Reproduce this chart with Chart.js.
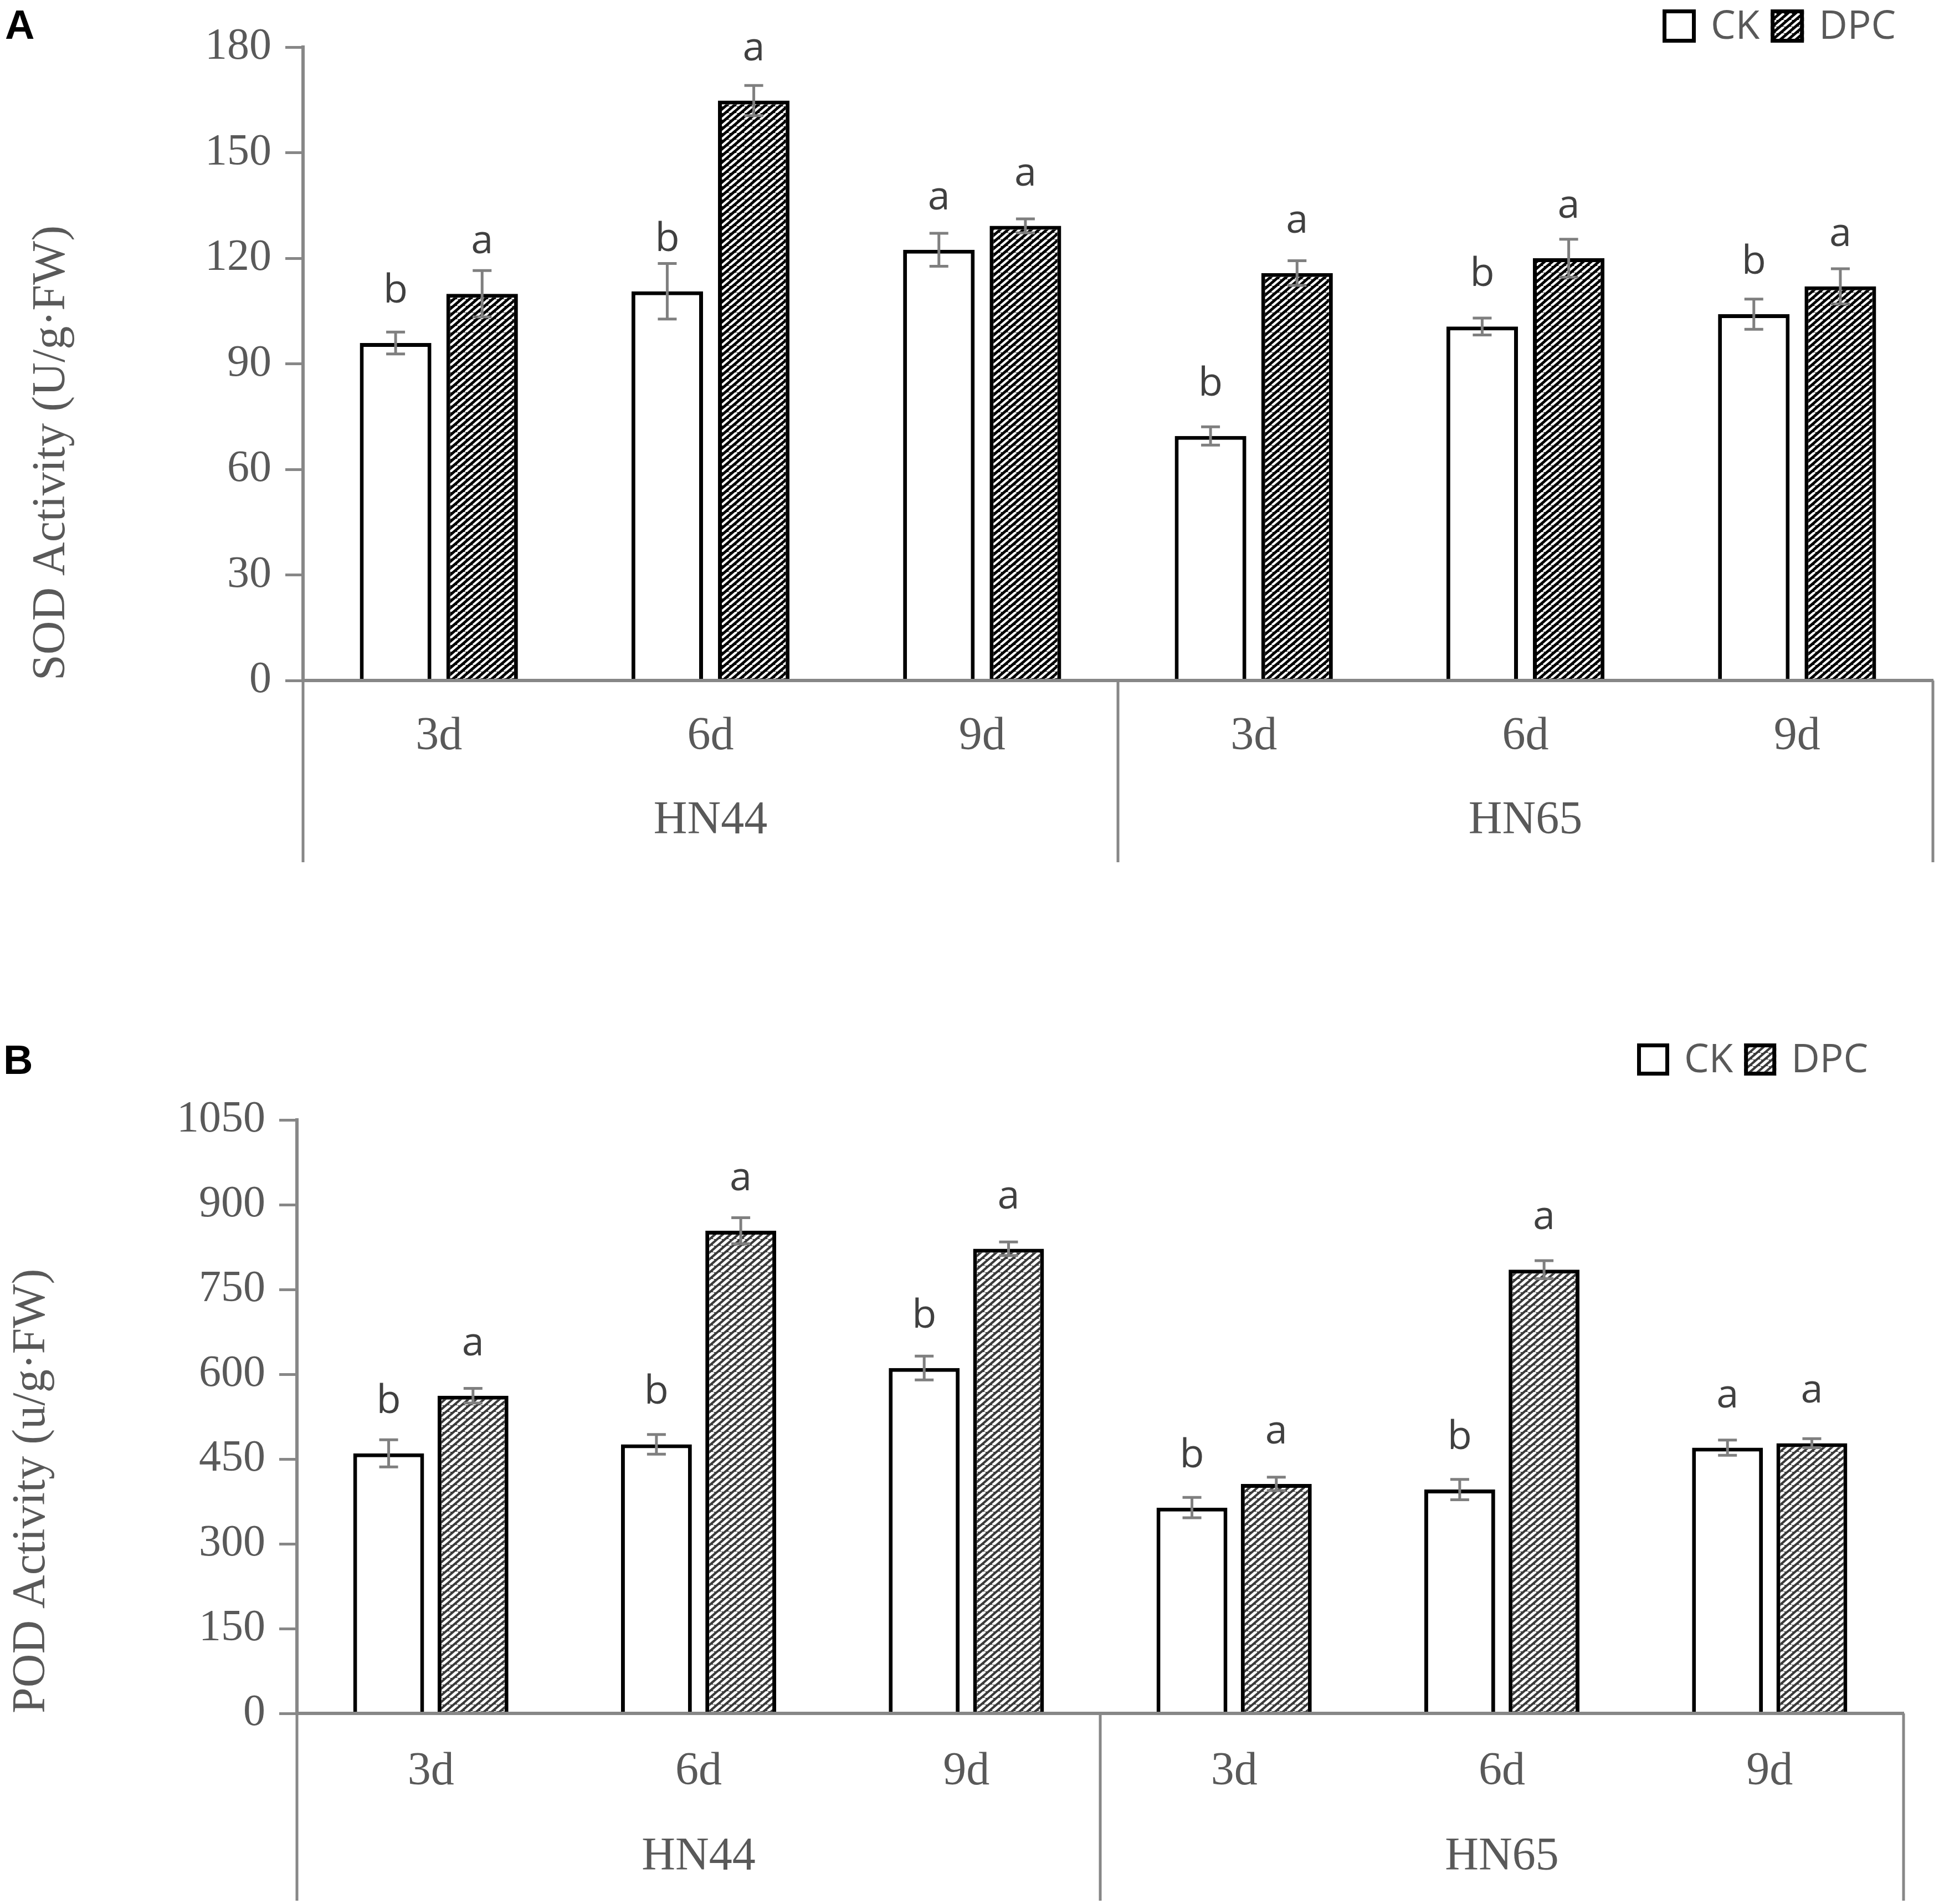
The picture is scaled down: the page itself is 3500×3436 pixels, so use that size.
<!DOCTYPE html>
<html>
<head>
<meta charset="utf-8">
<script src="https://cdn.jsdelivr.net/npm/chart.js@4.4.1/dist/chart.umd.min.js"></script>
<style>
html,body{margin:0;padding:0;background:#ffffff;}
body{width:3500px;height:3436px;position:relative;overflow:hidden;}
.wrap{position:absolute;left:0;width:3500px;}
.tag{position:absolute;font:bold 74px "Liberation Sans",Arial,sans-serif;color:#000;line-height:74px;}
</style>
</head>
<body>
<div class="tag" style="left:9px;top:8px;">A</div>
<div class="tag" style="left:6px;top:1876px;">B</div>
<div class="wrap" style="top:0;height:1600px;"><canvas id="chartA" width="3500" height="1600"></canvas></div>
<div class="wrap" style="top:1780px;height:1656px;"><canvas id="chartB" width="3500" height="1656"></canvas></div>
<script>
// ---------- data ----------
const groups = ['HN44', 'HN65'];
const days = ['3d', '6d', '9d', '3d', '6d', '9d'];
const seriesNames = ['CK', 'DPC'];

// Panel A: SOD activity (U/g·FW)
const sodTitle = 'SOD Activity (U/g\u00B7FW)';
const sodTicks = [0, 30, 60, 90, 120, 150, 180];
const sodCK = [95.9, 110.6, 122.4, 69.5, 100.6, 104.1];
const sodCKErr = [3.1, 7.9, 4.7, 2.6, 2.4, 4.3];
const sodDPC = [109.9, 164.8, 129.2, 115.8, 120.0, 112.0];
const sodDPCErr = [6.6, 4.3, 2.0, 3.5, 5.4, 5.0];
const sodCKLetters = ['b', 'b', 'a', 'b', 'b', 'b'];
const sodDPCLetters = ['a', 'a', 'a', 'a', 'a', 'a'];

// Panel B: POD activity (u/g·FW)
const podTitle = 'POD Activity (u/g\u00B7FW)';
const podTicks = [0, 150, 300, 450, 600, 750, 900, 1050];
const podCK = [460, 476, 611, 364, 396, 470];
const podCKErr = [24, 17.5, 21, 18, 18, 13.5];
const podDPC = [562, 854, 822, 406, 785, 478];
const podDPCErr = [13, 23, 12, 12, 16, 8];
const podCKLetters = ['b', 'b', 'b', 'b', 'b', 'a'];
const podDPCLetters = ['a', 'a', 'a', 'a', 'a', 'a'];

// ---------- styles ----------
const SERIF = '"Liberation Serif","Times New Roman",serif';
const SANS = '"Open Sans","Liberation Sans",sans-serif';
const TEXT = '#595959';
const AXIS = '#878787';
const ERR = '#7f7f7f';

function hatch(bg, fg, lw) {
  const w = 14, h = 12;
  const c = document.createElement('canvas');
  c.width = w; c.height = h;
  const g = c.getContext('2d');
  g.fillStyle = bg; g.fillRect(0, 0, w, h);
  g.strokeStyle = fg; g.lineWidth = lw;
  for (const dx of [-w, 0, w]) {
    g.beginPath(); g.moveTo(dx, h); g.lineTo(dx + w, 0); g.stroke();
  }
  return g.createPattern(c, 'repeat');
}

const decor = {
  id: 'decor',
  afterDatasetsDraw(chart, args, o) {
    const ctx = chart.ctx, ys = chart.scales.y;
    ctx.save();
    chart.data.datasets.forEach((ds, di) => {
      const meta = chart.getDatasetMeta(di);
      meta.data.forEach((bar, i) => {
        const v = ds.data[i], e = ds.errors[i];
        const yt = ys.getPixelForValue(v + e), yb = ys.getPixelForValue(v - e);
        ctx.strokeStyle = ERR; ctx.lineWidth = 5; ctx.lineCap = 'butt';
        ctx.beginPath();
        ctx.moveTo(bar.x, yt); ctx.lineTo(bar.x, yb);
        ctx.moveTo(bar.x - 17, yt); ctx.lineTo(bar.x + 17, yt);
        ctx.moveTo(bar.x - 17, yb); ctx.lineTo(bar.x + 17, yb);
        ctx.stroke();
        ctx.fillStyle = '#404040';
        ctx.font = '72px ' + SANS;
        ctx.textAlign = 'center'; ctx.textBaseline = 'alphabetic';
        ctx.fillText(ds.letters[i], bar.x, bar.y - 73);
      });
    });
    ctx.restore();
  },
  afterDraw(chart, args, o) {
    const ctx = chart.ctx, xs = chart.scales.x, area = chart.chartArea;
    const per = days.length / groups.length;
    ctx.save();
    // group box lines
    ctx.strokeStyle = AXIS; ctx.lineWidth = 5;
    const xsLines = [area.left, area.right];
    for (let g = 1; g < groups.length; g++) {
      xsLines.push((xs.getPixelForValue(g * per - 1) + xs.getPixelForValue(g * per)) / 2);
    }
    ctx.beginPath();
    xsLines.forEach(x => { ctx.moveTo(x, area.bottom); ctx.lineTo(x, xs.bottom); });
    ctx.stroke();
    // group labels
    ctx.fillStyle = TEXT; ctx.font = '84px ' + SERIF;
    ctx.textAlign = 'center'; ctx.textBaseline = 'middle';
    groups.forEach((gName, g) => {
      const cx = (xs.getPixelForValue(g * per) + xs.getPixelForValue(g * per + per - 1)) / 2;
      ctx.fillText(gName, cx, area.bottom + o.groupOffset);
    });
    // legend
    let x = o.legendX;
    const yc = o.legendY, bs = o.legendBox;
    ctx.font = '71px ' + SANS;
    ctx.textAlign = 'left'; ctx.textBaseline = 'middle';
    chart.data.datasets.forEach((ds) => {
      ctx.fillStyle = ds.backgroundColor;
      ctx.fillRect(x, yc - bs / 2, bs, bs);
      ctx.strokeStyle = '#000'; ctx.lineWidth = 7;
      ctx.strokeRect(x + 3.5, yc - bs / 2 + 3.5, bs - 7, bs - 7);
      x += bs + 27;
      ctx.fillStyle = TEXT;
      ctx.fillText(ds.label, x, yc + 3);
      x += ctx.measureText(ds.label).width + 20;
    });
    ctx.restore();
  }
};

function makeChart(id, cfg) {
  return new Chart(document.getElementById(id), {
    type: 'bar',
    data: {
      labels: days,
      datasets: [
        { label: seriesNames[0], data: cfg.ck, errors: cfg.ckErr, letters: cfg.ckLetters,
          backgroundColor: '#ffffff', borderColor: '#000000', borderWidth: 7, borderSkipped: 'start',
          categoryPercentage: cfg.catPct, barPercentage: cfg.barPct },
        { label: seriesNames[1], data: cfg.dpc, errors: cfg.dpcErr, letters: cfg.dpcLetters,
          backgroundColor: cfg.pattern, borderColor: '#000000', borderWidth: 7, borderSkipped: 'start',
          categoryPercentage: cfg.catPct, barPercentage: cfg.barPct }
      ]
    },
    options: {
      responsive: false, animation: false, devicePixelRatio: 1,
      layout: { padding: { top: cfg.padTop, right: cfg.padRight, bottom: cfg.padBottom, left: 0 } },
      plugins: {
        legend: { display: false }, tooltip: { enabled: false },
        decor: { groupOffset: cfg.groupOffset, legendX: cfg.legendX, legendY: cfg.legendY, legendBox: cfg.legendBox }
      },
      scales: {
        x: {
          grid: { display: false, drawTicks: false },
          border: { display: true, color: AXIS, width: 6, z: 1 },
          ticks: { color: TEXT, font: { family: SERIF, size: 84 }, padding: cfg.xPad, maxRotation: 0, autoSkip: false },
          afterFit: s => { s.height = cfg.xHeight; }
        },
        y: {
          min: cfg.ticks[0], max: cfg.ticks[cfg.ticks.length - 1],
          afterBuildTicks: s => { s.ticks = cfg.ticks.map(v => ({ value: v })); },
          grid: { display: true, drawOnChartArea: false, drawTicks: true, tickLength: 32, color: AXIS, lineWidth: 5 },
          border: { display: true, color: AXIS, width: 6 },
          ticks: { color: TEXT, font: { family: SERIF, size: 80 }, padding: 25, callback: v => String(v) },
          title: { display: true, text: cfg.title, color: TEXT, font: { family: SERIF, size: 84 },
                   align: 'start', padding: { top: cfg.titlePad, bottom: 0 } },
          afterFit: s => { s.width = cfg.yWidth; }
        }
      }
    },
    plugins: [decor]
  });
}

makeChart('chartA', {
  ck: sodCK, ckErr: sodCKErr, ckLetters: sodCKLetters,
  dpc: sodDPC, dpcErr: sodDPCErr, dpcLetters: sodDPCLetters,
  ticks: sodTicks, title: sodTitle,
  pattern: hatch('#000000', '#ffffff', 4.2),
  catPct: 0.637, barPct: 0.827,
  padTop: 85, padRight: 11, padBottom: 44,
  xHeight: 328, xPad: 52, groupOffset: 254,
  yWidth: 547, titlePad: 44,
  legendX: 3001, legendY: 47, legendBox: 60
});

makeChart('chartB', {
  ck: podCK, ckErr: podCKErr, ckLetters: podCKLetters,
  dpc: podDPC, dpcErr: podDPCErr, dpcLetters: podDPCLetters,
  ticks: podTicks, title: podTitle,
  pattern: hatch('#3a3a3a', '#ffffff', 5),
  catPct: 0.63, barPct: 0.84,
  padTop: 241, padRight: 64, padBottom: 6,
  xHeight: 338, xPad: 56, groupOffset: 260,
  yWidth: 536, titlePad: 8,
  legendX: 2955, legendY: 132, legendBox: 58
});
</script>
</body>
</html>
